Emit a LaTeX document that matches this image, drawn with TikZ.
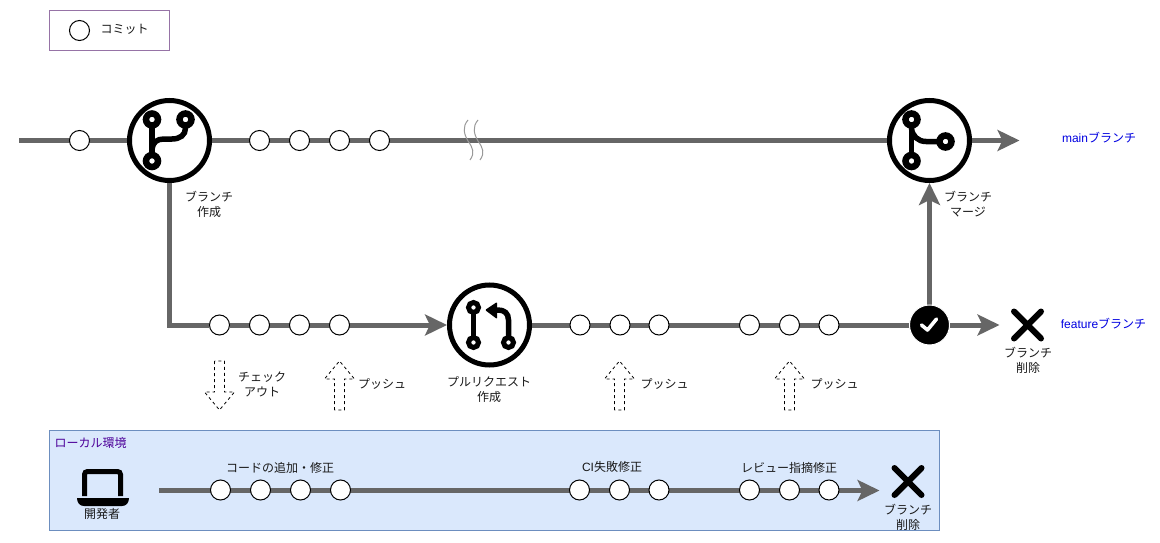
\documentclass[tikz,border=0pt]{standalone}
\usepackage{fontspec}
\setmainfont{Liberation Sans}
\newfontfamily\cjk{Noto Sans CJK JP}
\usetikzlibrary{arrows.meta,backgrounds}
\tikzset{
  x=1pt,y=-1pt,
  commit/.style={circle,draw=black,fill=white,line width=1pt,minimum size=20pt,inner sep=0pt},
  hub/.style={circle,draw=black,fill=white,line width=5pt,minimum size=80pt,inner sep=0pt},
  conn/.style={draw=black!60,line width=5pt},
  tipped/.style={conn,-{Stealth[length=22pt,width=21pt,inset=5pt,fill=black!60]}},
  lbl/.style={font=\cjk\fontsize{12}{15}\selectfont,align=center,inner sep=0pt,text=black!90},
  bluelbl/.style={lbl,text={rgb,255:red,0;green,0;blue,225}},
  iconring/.style={draw=black,line width=6.5pt},
  iconline/.style={draw=black,line width=5.5pt,line cap=round},
  crossline/.style={draw=black,line width=6pt,line cap=round},
  dasharrow/.style={draw=black,line width=.8pt,dash pattern=on 3pt off 3pt,fill=white},
  squiggle/.style={draw=black!40,line width=1pt},
  uparr/.pic={\path[dasharrow] (-5,49) -- (-5,18) -- (-15,18) -- (0,0) -- (15,18) -- (5,18) -- (5,49) -- cycle;},
  downarr/.pic={\path[dasharrow] (-5,0) -- (-5,31) -- (-15,31) -- (0,49) -- (15,31) -- (5,31) -- (5,0) -- cycle;},
  cross/.pic={\draw[crossline] (-13.5,-13.5) -- (13.5,13.5) (13.5,-13.5) -- (-13.5,13.5);}
}
\begin{document}
\begin{tikzpicture}
\useasboundingbox (0,0) rectangle (1160,543);

% frames
\node[draw={rgb,255:red,150;green,115;blue,166},line width=1pt,minimum width=120pt,minimum height=40pt,inner sep=0pt] (legend) at (109.5,30.5) {};
\begin{pgfonlayer}{background}
\fill[white] (0,0) rectangle (1160,543);
\node[draw={rgb,255:red,108;green,142;blue,191},fill={rgb,255:red,218;green,232;blue,252},line width=1pt,minimum width=890pt,minimum height=100pt,inner sep=0pt] (local) at (494.5,480.5) {};
\end{pgfonlayer}

% hubs
\node[hub] (hbranch) at (169.5,140.5) {};
\node[hub] (hmerge) at (929.5,140.5) {};
\node[hub] (hpr) at (489.5,325) {};
\node[circle,fill=black,draw=white,line width=1pt,minimum size=40pt,inner sep=0pt] (done) at (929.5,325) {};

% free ends
\coordinate (mstart) at (19,140.5);
\coordinate (mend) at (1019.5,140.5);
\coordinate (corner) at (169.5,325);
\coordinate (fend) at (999.5,325);
\coordinate (lstart) at (159,490.5);
\coordinate (lend) at (879.5,490.5);

% commits
\node[commit] (leg) at (79.5,30.5) {};
\foreach \n/\x in {m0/79.5,m1/259.5,m2/299.5,m3/339.5,m4/379.5}
  \node[commit] (\n) at (\x,140.5) {};
\foreach \n/\x in {f1/219.5,f2/259.5,f3/299.5,f4/339.5,f5/580,f6/620,f7/659,f8/749.5,f9/789.5,f10/829}
  \node[commit] (\n) at (\x,325) {};
\foreach \n/\x in {l1/220.5,l2/260.5,l3/300.5,l4/340.5,l5/579.5,l6/619.5,l7/659,l8/749.5,l9/789.5,l10/829}
  \node[commit] (\n) at (\x,490) {};

% connectors
\begin{pgfonlayer}{background}
\draw[conn] (mstart) -- (hbranch.west);
\draw[conn] (hbranch.east) -- (hmerge.west);
\draw[tipped] (hmerge.east) -- (mend);
\draw[conn] (hbranch.south) -- (corner) -- (f1.west);
\draw[tipped] (f1.east) -- (hpr.west);
\draw[conn] (hpr.east) -- (done.west);
\draw[tipped] (done.east) -- (fend);
\draw[tipped] (done.north) -- (hmerge.south);
\draw[tipped] (lstart) -- (lend);
\end{pgfonlayer}

% squiggles
\draw[squiggle] (468,120) .. controls (462,127) and (464,134) .. (468,141) .. controls (473,148) and (475,153) .. (470,160);
\draw[squiggle] (478,120) .. controls (472,127) and (474,134) .. (478,141) .. controls (483,148) and (485,153) .. (480,160);

% branch icon
\draw[iconline] (152,128) -- (152,152);
\draw[iconline] (152,149) .. controls (153,142) and (157,139) .. (164,139) -- (172,139) .. controls (180,139) and (185.5,135) .. (185.5,128);
\draw[iconring] (152,119.5) circle[radius=6] (185.5,119.5) circle[radius=6] (152,161) circle[radius=6];
% merge icon
\draw[iconline] (911.5,128) -- (911.5,152);
\draw[iconline] (911.5,128) .. controls (912,136) and (918,141.5) .. (926,141.5) -- (938,141.5);
\draw[iconring] (911.5,119.5) circle[radius=6] (945.5,141.5) circle[radius=6] (911.5,161) circle[radius=6];
% pull request icon
\draw[iconline] (473.5,313) -- (473.5,336);
\draw[iconline] (508.5,336) -- (508.5,320) .. controls (508.5,313) and (504,310) .. (498,310) -- (492,310);
\fill[black,rounded corners=1pt] (485,310) -- (497,302) -- (497,319) -- cycle;
\draw[draw=black,line width=5pt] (473.5,307.5) circle[radius=5] (473.5,342.5) circle[radius=5] (508.5,342.5) circle[radius=5];
% check mark
\draw[draw=white,line width=3.6pt,line cap=round,line join=round] (921.5,325) -- (927.5,330) -- (936.5,319);

% crosses
\pic at (1027.5,325) {cross};
\pic at (908,481.5) {cross};

% dashed arrows
\pic at (219.5,361) {downarr};
\pic at (339.5,361) {uparr};
\pic at (619.5,361) {uparr};
\pic at (789.5,361) {uparr};

% laptop icon
\draw[draw=black,line width=5pt,line cap=butt,rounded corners=3pt] (84.5,496) -- (84.5,471.5) -- (120.5,471.5) -- (120.5,496);
\fill[black] (77,498) -- (129,498) .. controls (129,503) and (126,506) .. (122,506) -- (84,506) .. controls (80,506) and (77,503) .. (77,498) -- cycle;

% labels
\node[lbl] (tleg) at (124.5,29) {コミット};
\node[lbl] (t1) at (209,204) {ブランチ\\作成};
\node[lbl] (t2) at (968,204) {ブランチ\\マージ};
\node[lbl] (t3) at (1028,360) {ブランチ\\削除};
\node[lbl] (t4) at (262,384) {チェック\\アウト};
\node[lbl] (t5) at (382,384) {プッシュ};
\node[lbl] (t6) at (489,390) {プルリクエスト\\作成};
\node[lbl] (t7) at (664.5,384) {プッシュ};
\node[lbl] (t8) at (834.5,384) {プッシュ};
\node[bluelbl] (tmain) at (1099,138) {{\rmfamily main}ブランチ};
\node[bluelbl] (tfeat) at (1103.5,324) {{\rmfamily feature}ブランチ};
\node[lbl,anchor=west,text={rgb,255:red,76;green,0;blue,153}] (tlocal) at (54.5,442.5) {ローカル環境};
\node[lbl] (tdev) at (102,514) {開発者};
\node[lbl] (tc1) at (280,468) {コードの追加・修正};
\node[lbl] (tc2) at (612,467) {{\rmfamily CI}失敗修正};
\node[lbl] (tc3) at (789,468) {レビュー指摘修正};
\node[lbl] (t9) at (908,517) {ブランチ\\削除};
\end{tikzpicture}
\end{document}
